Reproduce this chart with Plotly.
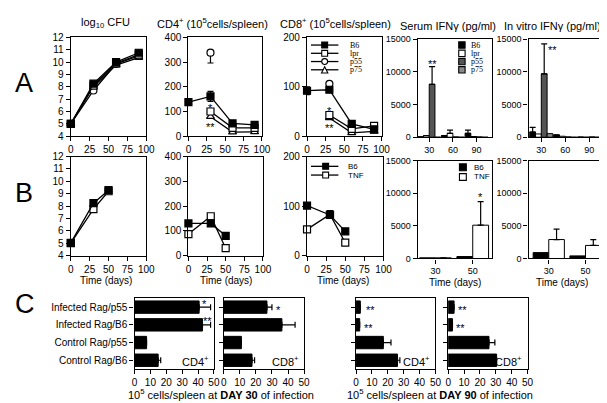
import plotly.graph_objects as go

W, H = 607, 403
SANS = "Liberation Sans, Arial, Helvetica, sans-serif"
SERIF = "Liberation Serif, Times New Roman, serif"

# ---------------- data ----------------
days_A = [0, 30, 60, 90]
cfu_A_B6 = [5.0, 8.25, 10.0, 10.75]
cfu_A_lpr = [5.0, 8.1, 9.9, 10.6]
cfu_A_p55 = [5.0, 7.7, 9.85, 10.5]
cfu_A_p75 = [5.0, 8.0, 9.75, 10.35]

cd4_A_B6 = [138, 161, 52, 46]
cd4_A_lpr = [None, 100, 34, 34]
cd4_A_p55 = [None, 338, None, None]
cd4_A_p75 = [None, 79, 17, 18]
cd4_A_B6_err = [0, 20, 0, 0]
cd4_A_p55_errminus = [0, 42, 0, 0]

cd8_A_B6 = [92, 94, 25, 14]
cd8_A_lpr = [None, 43, 15, 21]
cd8_A_p55 = [None, 106, None, None]
cd8_A_p75 = [None, 37, 7, 10]
cd8_A_B6_err = [8, 0, 0, 0]

ifn_days_A = [30, 60, 90]
serum_A_B6 = [50, 250, 600]
serum_A_lpr = [250, 600, 100]
serum_A_p55 = [8100, 0, 0]
serum_A_p75 = [0, 0, 0]
serum_A_B6_err = [0, 0, 500]
serum_A_lpr_err = [0, 500, 0]
serum_A_p55_err = [2700, 0, 0]

vitro_A_B6 = [800, 350, 0]
vitro_A_lpr = [500, 150, 0]
vitro_A_p55 = [9700, 0, 0]
vitro_A_p75 = [550, 0, 0]
vitro_A_B6_err = [700, 0, 0]
vitro_A_p55_err = [4600, 0, 0]

days_B = [0, 30, 50]
cfu_B_B6 = [5.03, 8.24, 9.29]
cfu_B_TNF = [5.0, 7.76, 9.2]
cd4_B_B6 = [130, 130, 80]
cd4_B_TNF = [87, 159, 30]
cd8_B_B6 = [101, 82, 49]
cd8_B_B6_err = [0, 9, 0]
cd8_B_TNF = [53, 83, 26]

ifn_days_B = [30, 50]
serum_B_B6 = [100, 300]
serum_B_TNF = [100, 5100]
serum_B_TNF_err = [0, 3600]
vitro_B_B6 = [900, 400]
vitro_B_TNF = [2900, 2000]
vitro_B_TNF_err = [1600, 900]

groups_C = ["Infected Rag/p55", "Infected Rag/B6", "Control Rag/p55", "Control Rag/B6"]
d30_cd4 = [40.7, 42.8, 7.6, 14.9]
d30_cd4_err = [7.2, 5.1, 0, 1.6]
d30_cd8 = [26.9, 36.2, 11.0, 17.6]
d30_cd8_err = [3.1, 8.2, 0, 1.6]
d90_cd4 = [2.7, 2.3, 17.2, 26.1]
d90_cd4_err = [0, 0, 4.8, 1.5]
d90_cd8 = [3.7, 2.7, 25.7, 30.5]
d90_cd8_err = [0, 0, 3.7, 0]

line_ticks = [0, 25, 50, 75, 100]
ifn_ticks = [0, 5000, 10000, 15000]
c_ticks = [0, 10, 20, 30, 40, 50]

# ---------------- layout helpers ----------------
panels = {
    1: (61, 24, 138, 126), 2: (181, 24, 256, 126), 3: (302, 24, 378, 126),
    4: (415, 26, 491, 127), 5: (528, 26, 602, 127),
    6: (61, 147, 138, 249), 7: (181, 147, 257, 249), 8: (302, 147, 380, 249),
    9: (415, 151, 491, 252), 10: (528, 151, 602, 252),
    11: (126, 293, 207, 366), 12: (217, 293, 299, 366),
    13: (352, 293, 433, 366), 14: (446, 293, 527, 366),
}


def xr(i):
    return "x" if i == 1 else f"x{i}"


def yr(i):
    return "y" if i == 1 else f"y{i}"


def px(x):
    return x / W


def py(y):
    return 1 - y / H


fig = go.Figure()

MK = 7
LW = 1.3


def line(i, x, y, symbol, filled, mode="lines+markers", err=None, errminus=None):
    kw = {}
    if err is not None or errminus is not None:
        n = len(x)
        kw["error_y"] = dict(type="data", symmetric=False,
                             array=err if err is not None else [0] * n,
                             arrayminus=errminus if errminus is not None else [0] * n,
                             color="black", thickness=1.2, width=3)
    fig.add_trace(go.Scatter(
        x=x, y=y, xaxis=xr(i), yaxis=yr(i), mode=mode, showlegend=False,
        line=dict(color="black", width=LW), cliponaxis=False,
        marker=dict(symbol=symbol, size=MK, color="black" if filled else "white",
                    line=dict(color="black", width=1.2)), **kw))


def bar(i, x, y, color, width, offset, err=None):
    kw = {}
    if err is not None:
        kw["error_y"] = dict(type="data", symmetric=False, array=err,
                             arrayminus=[0] * len(x), color="black", thickness=1.2, width=3)
    fig.add_trace(go.Bar(x=x, y=y, xaxis=xr(i), yaxis=yr(i), width=width, offset=offset,
                         marker=dict(color=color, line=dict(color="black", width=1)),
                         showlegend=False, **kw))


def hbar(i, vals, err):
    fig.add_trace(go.Bar(y=groups_C, x=vals, orientation="h", xaxis=xr(i), yaxis=yr(i),
                         width=0.7, marker=dict(color="black", line=dict(color="black", width=1)),
                         showlegend=False,
                         error_x=dict(type="data", symmetric=False, array=err,
                                      arrayminus=[0] * len(vals), color="black",
                                      thickness=1.2, width=3)))


COL_B6, COL_LPR, COL_P55, COL_P75 = "black", "white", "#555555", "#8a8a8a"

# Row A
line(1, days_A, cfu_A_p75, "triangle-up", False)
line(1, days_A, cfu_A_p55, "circle", False)
line(1, days_A, cfu_A_lpr, "square", False)
line(1, days_A, cfu_A_B6, "square", True)

line(2, days_A, cd4_A_p75, "triangle-up", False)
line(2, days_A, cd4_A_lpr, "square", False)
line(2, days_A, cd4_A_p55, "circle", False, mode="markers", errminus=cd4_A_p55_errminus)
line(2, days_A, cd4_A_B6, "square", True, err=cd4_A_B6_err, errminus=cd4_A_B6_err)

line(3, days_A, cd8_A_p75, "triangle-up", False)
line(3, days_A, cd8_A_lpr, "square", False)
line(3, days_A, cd8_A_p55, "circle", False, mode="markers")
line(3, days_A, cd8_A_B6, "square", True, err=cd8_A_B6_err, errminus=cd8_A_B6_err)

wA = 7.25
bar(4, ifn_days_A, serum_A_B6, COL_B6, wA, -2 * wA, serum_A_B6_err)
bar(4, ifn_days_A, serum_A_lpr, COL_LPR, wA, -wA, serum_A_lpr_err)
bar(4, ifn_days_A, serum_A_p55, COL_P55, wA, 0, serum_A_p55_err)
bar(4, ifn_days_A, serum_A_p75, COL_P75, wA, wA)

bar(5, ifn_days_A, vitro_A_B6, COL_B6, wA, -2 * wA, vitro_A_B6_err)
bar(5, ifn_days_A, vitro_A_lpr, COL_LPR, wA, -wA)
bar(5, ifn_days_A, vitro_A_p55, COL_P55, wA, 0, vitro_A_p55_err)
bar(5, ifn_days_A, vitro_A_p75, COL_P75, wA, wA)

# Row B
line(6, days_B, cfu_B_TNF, "square", False)
line(6, days_B, cfu_B_B6, "square", True)
line(7, days_B, cd4_B_TNF, "square", False)
line(7, days_B, cd4_B_B6, "square", True)
line(8, days_B, cd8_B_TNF, "square", False)
line(8, days_B, cd8_B_B6, "square", True, err=cd8_B_B6_err)

wB = 8.5
bar(9, ifn_days_B, serum_B_B6, COL_B6, wB, -wB)
bar(9, ifn_days_B, serum_B_TNF, COL_LPR, wB, 0, serum_B_TNF_err)
bar(10, ifn_days_B, vitro_B_B6, COL_B6, wB, -wB)
bar(10, ifn_days_B, vitro_B_TNF, COL_LPR, wB, 0, vitro_B_TNF_err)

# Row C
hbar(11, d30_cd4, d30_cd4_err)
hbar(12, d30_cd8, d30_cd8_err)
hbar(13, d90_cd4, d90_cd4_err)
hbar(14, d90_cd8, d90_cd8_err)

# ---------------- axes ----------------
layout = dict(width=W, height=H, margin=dict(l=0, r=0, t=0, b=0), autosize=False,
              paper_bgcolor="white", plot_bgcolor="white", barmode="overlay",
              font=dict(family=SANS, color="black"), showlegend=False)

base = dict(showline=True, linecolor="black", linewidth=1.3, mirror=True, ticks="outside",
            ticklen=4, tickwidth=1.2, tickcolor="black", showgrid=False, zeroline=False,
            fixedrange=True)

xcfg = {
    1: dict(range=[0, 100], tickvals=line_ticks), 2: dict(range=[0, 100], tickvals=line_ticks),
    3: dict(range=[0, 100], tickvals=line_ticks),
    4: dict(range=[15.5, 110], tickvals=ifn_days_A), 5: dict(range=[14, 105], tickvals=ifn_days_A),
    6: dict(range=[0, 100], tickvals=line_ticks), 7: dict(range=[0, 100], tickvals=line_ticks),
    8: dict(range=[0, 100], tickvals=line_ticks),
    9: dict(range=[20.5, 60.5], tickvals=ifn_days_B), 10: dict(range=[19, 58.5], tickvals=ifn_days_B),
}
ycfg = {
    1: dict(range=[4, 12], dtick=1), 6: dict(range=[4, 12], dtick=1),
    2: dict(range=[0, 400], dtick=100), 7: dict(range=[0, 400], dtick=100),
    3: dict(range=[0, 200], dtick=100), 8: dict(range=[0, 200], dtick=100),
    4: dict(range=[0, 15000], tickvals=ifn_ticks), 5: dict(range=[0, 15000], tickvals=ifn_ticks),
    9: dict(range=[0, 15000], tickvals=ifn_ticks), 10: dict(range=[0, 15000], tickvals=ifn_ticks),
}

for i, (l, t, r, b) in panels.items():
    xk = "xaxis" if i == 1 else f"xaxis{i}"
    yk = "yaxis" if i == 1 else f"yaxis{i}"
    xd = [px(l), px(r)]
    yd = [py(b), py(t)]
    if i <= 10:
        fs = 9 if i in (4, 5, 9, 10) else 10
        layout[xk] = dict(base, domain=xd, anchor=yr(i), tickformat="d",
                          tickfont=dict(size=fs, family=SANS), **xcfg[i])
        layout[yk] = dict(base, domain=yd, anchor=xr(i), tickformat="d",
                          tickfont=dict(size=fs, family=SANS), **ycfg[i])
    else:
        layout[xk] = dict(base, domain=xd, anchor=yr(i), type="linear", side="bottom",
                          range=[0, 50], tickmode="array", tickvals=c_ticks,
                          ticktext=[str(v) for v in c_ticks], showticklabels=True,
                          ticklabeloverflow="allow", tickfont=dict(size=10, family=SANS))
        layout[yk] = dict(base, domain=yd, anchor=xr(i), type="category",
                          range=[3.5, -0.5], showticklabels=(i == 11),
                          tickfont=dict(size=10, family=SANS))

ann = []


def text(x, y, s, size=11, xanchor="center", family=SANS, **kw):
    ann.append(dict(x=px(x), y=py(y), xref="paper", yref="paper", text=s, showarrow=False,
                    xanchor=xanchor, yanchor="middle", font=dict(size=size, family=family,
                                                                  color="black"), **kw))


# panel letters
text(13, 71, "A", size=27)
text(13, 185, "B", size=27)
text(14, 299, "C", size=27)

# titles
text(96, 9, "log<sub>10</sub> CFU", size=11)
text(206, 9, "CD4<sup>+</sup> (10<sup>5</sup>cells/spleen)", size=11)
text(331, 9, "CD8<sup>+</sup> (10<sup>5</sup>cells/spleen)", size=11)
text(446, 12, "Serum IFNγ (pg/ml)", size=11)
text(552, 12, "In vitro IFNγ (pg/ml)", size=11)

for xc in (97, 219, 339):
    text(xc, 275, "Time (days)", size=10)
for xc in (453, 562):
    text(xc, 277, "Time (days)", size=10)

text(214, 392, "10<sup>5</sup> cells/spleen at <b>DAY 30</b> of infection", size=11)
text(438, 392, "10<sup>5</sup> cells/spleen at <b>DAY 90</b> of infection", size=11)

text(204, 358, "CD4<sup>+</sup>", size=11, xanchor="right")
text(296, 358, "CD8<sup>+</sup>", size=11, xanchor="right")
text(429, 358, "CD4<sup>+</sup>", size=11, xanchor="right")
text(523, 358, "CD8<sup>+</sup>", size=11, xanchor="right")

# significance stars (data coordinates)
stars = [
    (2, 30, 125, "*"), (2, 30, 51, "**"),
    (3, 30, 57, "*"), (3, 30, 22, "**"),
    (4, 33.6, 11700, "**"), (5, 43.5, 13800, "**"),
    (9, 54.25, 9800, "*"),
    (11, 43.8, -0.37, "*"), (11, 45.9, 0.63, "**"),
    (12, 34.1, 0, "*"),
    (13, 8.9, 0, "**"), (13, 7.9, 1, "**"),
    (14, 8.8, 0, "**"), (14, 7.8, 1, "**"),
]
for i, x, y, s in stars:
    ann.append(dict(x=x, y=y, xref=xr(i), yref=yr(i), text=s, showarrow=False,
                    yshift=-3, font=dict(size=11, family=SANS, color="black")))

# ---------------- hand-drawn legends ----------------
shapes = []


def seg(x0, y0, x1, y1):
    shapes.append(dict(type="line", xref="paper", yref="paper", x0=px(x0), y0=py(y0),
                       x1=px(x1), y1=py(y1), line=dict(color="black", width=LW)))


def sq(xc, yc, s, fill):
    shapes.append(dict(type="rect", xref="paper", yref="paper", x0=px(xc - s / 2),
                       x1=px(xc + s / 2), y0=py(yc + s / 2), y1=py(yc - s / 2),
                       fillcolor=fill, line=dict(color="black", width=1.1)))


def circ(xc, yc, s):
    shapes.append(dict(type="circle", xref="paper", yref="paper", x0=px(xc - s / 2),
                       x1=px(xc + s / 2), y0=py(yc + s / 2), y1=py(yc - s / 2),
                       fillcolor="white", line=dict(color="black", width=1.1)))


def tri(xc, yc, s):
    p = (f"M {px(xc)},{py(yc - s / 2)} L {px(xc + s / 2)},{py(yc + s / 2)} "
         f"L {px(xc - s / 2)},{py(yc + s / 2)} Z")
    shapes.append(dict(type="path", xref="paper", yref="paper", path=p, fillcolor="white",
                       line=dict(color="black", width=1.1)))


legA_labels = ["B6", "lpr", "p55", "p75"]
legA_y = [32, 40.5, 49, 57.5]
for lab, yy in zip(legA_labels, legA_y):
    seg(306, yy, 334, yy)
    if lab == "B6":
        sq(320, yy, 6, "black")
    elif lab == "lpr":
        sq(320, yy, 6, "white")
    elif lab == "p55":
        circ(320, yy, 6)
    else:
        tri(320, yy, 6.5)
    text(344, yy, lab, size=8, xanchor="left", family=SERIF)

for lab, yy, c in zip(legA_labels, legA_y, [COL_B6, COL_LPR, COL_P55, COL_P75]):
    sq(460, yy, 6.5, c)
    text(467, yy, lab, size=8, xanchor="left", family=SERIF)

legB_labels = ["B6", "TNF"]
for lab, yy, f in zip(legB_labels, [157, 166], ["black", "white"]):
    seg(306, yy, 334, yy)
    sq(321, yy, 6, f)
    text(342, yy, lab, size=8, xanchor="left")
for lab, yy, f in zip(legB_labels, [158, 168], ["black", "white"]):
    sq(461, yy, 7, f)
    text(470, yy, lab, size=8, xanchor="left")

layout["annotations"] = ann
layout["shapes"] = shapes
fig.update_layout(**layout)

fig.write_html("out.html")
